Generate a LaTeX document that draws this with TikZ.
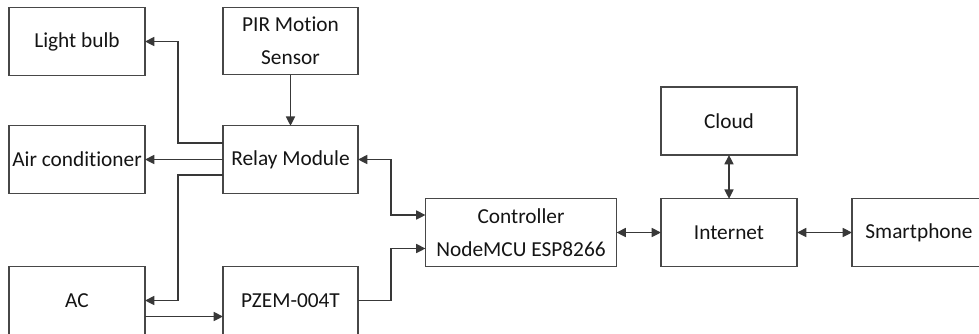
\documentclass[tikz,border=0pt]{standalone}
\usepackage{fontspec}
\setmainfont{Carlito}[Ligatures=NoCommon]
\usetikzlibrary{arrows.meta,calc}
\begin{document}
\begin{tikzpicture}[x=0.75pt,y=-0.75pt,
  box/.style={draw=black!72,line width=0.9pt,inner sep=0pt,outer sep=0pt,
    minimum width=102pt,minimum height=50.6pt,align=center,
    font=\fontsize{16pt}{24.5pt}\selectfont,text=black!92},
  tip/.style={Triangle[length=7pt,width=6.8pt]},
  arr/.style={draw=black!78,line width=0.9pt,-{Triangle[length=7pt,width=6.8pt]}},
  biarr/.style={draw=black!78,line width=0.9pt,{Triangle[length=7pt,width=6.8pt]}-{Triangle[length=7pt,width=6.8pt]}}]
\useasboundingbox (0,0) rectangle (979,333);
\clip (0,0) rectangle (979,333);

% blocks
\node[box] (light) at (77,41.5)      {Light bulb};
\node[box,minimum width=101.25pt] (pir) at (290.5,41) {PIR Motion\\Sensor};
\node[box] (air) at (77,159.5)     {Air conditioner};
\node[box,minimum width=101.25pt] (relay) at (290.5,159.5) {Relay Module};
\node[box,minimum height=51pt] (ac) at (77,300.5) {AC};
\node[box,minimum width=101.25pt,minimum height=51pt] (pzem) at (290.5,300.5) {PZEM-004T};
\node[box,minimum width=143.25pt] (ctrl) at (521,232.5) {Controller\\NodeMCU ESP8266};
\node[box,minimum height=51pt] (cloud) at (729,121) {Cloud};
\node[box] (inet) at (729,232.5) {Internet};
\node[box,minimum width=100.5pt] (phone) at (919,232.5) {Smartphone};

% relay outputs
\draw[arr] ($(relay.west)+(0,-16.5)$) -- ++(-45,0) |- (light.east);
\draw[arr] (relay.west) -- (air.east);
\draw[arr] ($(relay.west)+(0,15.5)$) -- ++(-45,0) |- (ac.east);
\draw[arr] (pir) -- (relay);

% power measurement path
\draw[arr] ($(ac.east)+(0,16)$) -- ($(pzem.west)+(0,16)$);
\draw[arr] (pzem.east) -- ++(33,0) |- ($(ctrl.west)+(0,16)$);
\draw[biarr] (relay.east) -- ++(33,0) |- ($(ctrl.west)+(0,-17.5)$);

% network side
\draw[biarr] (ctrl) -- (inet);
\draw[biarr] (cloud) -- (inet);
\draw[biarr] (inet) -- (phone);
\end{tikzpicture}
\end{document}
